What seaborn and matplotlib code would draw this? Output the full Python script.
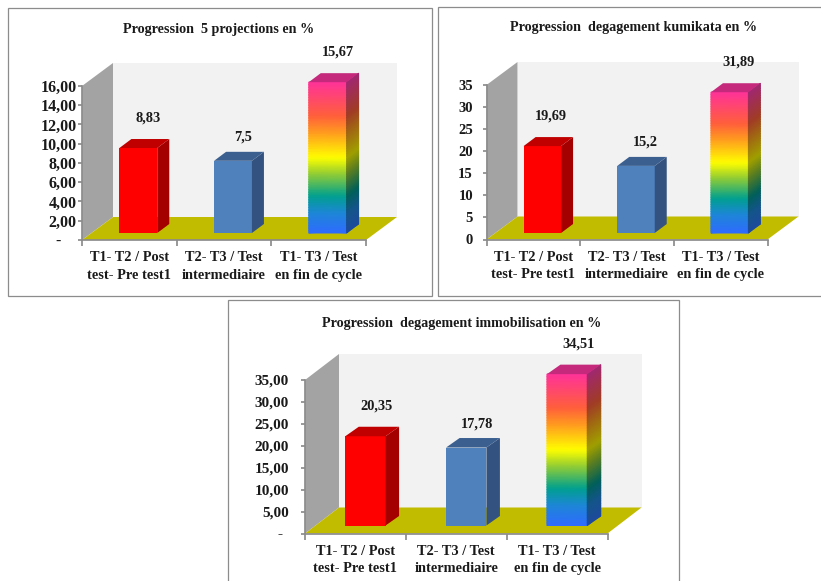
import numpy as np
import pandas as pd
import seaborn as sns
import matplotlib.pyplot as plt
from matplotlib.colors import LinearSegmentedColormap
from matplotlib.patches import Polygon, Rectangle
from matplotlib.transforms import Affine2D

# Data
CATEGORIES = ['T1- T2 / Post\ntest- Pre test1', 'T2- T3 / Test\nintermediaire', 'T1- T3 / Test\nen fin de cycle']

TITLE_1 = 'Progression  5 projections en %'
VALUES_1 = [8.83, 7.5, 15.67]
LABELS_1 = ['8,83', '7,5', '15,67']
YTICKS_1 = [0, 2, 4, 6, 8, 10, 12, 14, 16]
YLABELS_1 = ['-', '2,00', '4,00', '6,00', '8,00', '10,00', '12,00', '14,00', '16,00']

TITLE_2 = 'Progression  degagement kumikata en %'
VALUES_2 = [19.69, 15.2, 31.89]
LABELS_2 = ['19,69', '15,2', '31,89']
YTICKS_2 = [0, 5, 10, 15, 20, 25, 30, 35]
YLABELS_2 = ['0', '5', '10', '15', '20', '25', '30', '35']

TITLE_3 = 'Progression  degagement immobilisation en %'
VALUES_3 = [20.35, 17.78, 34.51]
LABELS_3 = ['20,35', '17,78', '34,51']
YTICKS_3 = [0, 5, 10, 15, 20, 25, 30, 35]
YLABELS_3 = ['-', '5,00', '10,00', '15,00', '20,00', '25,00', '30,00', '35,00']

# Layout, in pixels of the 821x581 picture
W, H = 821, 581
FONT = 'Liberation Serif'
TEXT = '#1A1A1A'
GREY_LINE = '#8C8C8C'

SOLID = [('#FF0000', '#A50000', '#C00000'), ('#4F81BD', '#34527F', '#3B6090')]
RAINBOW = [(0, '#2F6BFF'), (.13, '#1E86D8'), (.245, '#00A090'), (.40, '#9AD030'),
           (.5, '#FFFF00'), (.67, '#FF9A20'), (.78, '#FF5F3C'), (1, '#FF3399')]
RAINBOW_DARK = [(0, '#1E4A9E'), (.13, '#14558A'), (.245, '#00605A'), (.40, '#60801E'),
                (.5, '#A0A000'), (.67, '#A06414'), (.78, '#A03C26'), (1, '#A02870')]
front_cmap = LinearSegmentedColormap.from_list('front', RAINBOW)
side_cmap = LinearSegmentedColormap.from_list('side', RAINBOW_DARK)


def draw_panel(fig, values, labels, yticks, ylabels, title, frame, axis, wall, bar, title_xy, ytick_style):
    left, right, bottom, top = axis
    ax = fig.add_axes([left / W, 1 - bottom / H, (right - left) / W, (bottom - top) / H])
    df = pd.DataFrame({'pos': np.arange(len(values)), 'cat': CATEGORIES, 'val': values})
    sns.barplot(data=df, x='pos', y='val', hue='cat', palette=['#FF0000', '#4F81BD', '#FF3399'],
                native_scale=True, dodge=False, width=bar['width'], legend=False, saturation=1, ax=ax)
    bars = list(ax.patches)
    ax.set_xlim(-0.5, 2.5)
    ax.set_ylim(yticks[0], yticks[-1])
    ax.patch.set_alpha(0)
    ax.set_xlabel('')
    ax.set_ylabel('')

    # pixels -> data units
    sx = (right - left) / 3
    sy = (bottom - top) / (yticks[-1] - yticks[0])
    wx, wy = wall[0] / sx, wall[1] / sy
    ox, oy = bar['offset'][0] / sx, bar['offset'][1] / sy
    dx, dy = bar['depth'][0] / sx, bar['depth'][1] / sy
    ymax = yticks[-1]

    # back wall, side wall, floor
    ax.add_patch(Polygon([(-.5 + wx, wy), (2.5 + wx, wy), (2.5 + wx, ymax + wy), (-.5 + wx, ymax + wy)],
                         fc='#F2F2F2', ec='none', zorder=.2, clip_on=False))
    ax.add_patch(Polygon([(-.5, 0), (-.5 + wx, wy), (-.5 + wx, ymax + wy), (-.5, ymax)],
                         fc='#A3A3A3', ec='none', zorder=.3, clip_on=False))
    ax.add_patch(Polygon([(-.5, 0), (2.5, 0), (2.5 + wx, wy), (-.5 + wx, wy)],
                         fc='#C2BC00', ec='none', zorder=.4, clip_on=False))

    for i, patch in enumerate(bars):
        v = values[i]
        patch.set_x(patch.get_x() + ox)
        patch.set_y(oy)
        patch.set_clip_on(False)
        patch.set_zorder(2)
        patch.set_edgecolor('none')
        x0, x1 = patch.get_x(), patch.get_x() + patch.get_width()
        side_pts = [(x1, oy), (x1 + dx, oy + dy), (x1 + dx, oy + dy + v), (x1, oy + v)]
        top_pts = [(x0, oy + v), (x1, oy + v), (x1 + dx, oy + v + dy), (x0 + dx, oy + v + dy)]
        if i < 2:
            ax.add_patch(Polygon(side_pts, fc=SOLID[i][1], ec='none', zorder=2, clip_on=False))
            ax.add_patch(Polygon(top_pts, fc=SOLID[i][2], ec='none', zorder=2, clip_on=False))
        else:
            t = np.linspace(0, 1, 60)
            y = oy + t * v
            c = np.column_stack([t, t])
            ax.pcolormesh(np.column_stack([np.full(60, x0), np.full(60, x1)]), np.column_stack([y, y]), c,
                          cmap=front_cmap, vmin=0, vmax=1, shading='gouraud', zorder=2.1, clip_on=False)
            ax.pcolormesh(np.column_stack([np.full(60, x1), np.full(60, x1 + dx)]), np.column_stack([y, y + dy]), c,
                          cmap=side_cmap, vmin=0, vmax=1, shading='gouraud', zorder=2.1, clip_on=False)
            ax.add_patch(Polygon(top_pts, fc='#C4297C', ec='none', zorder=2.1, clip_on=False))
        rise = 24 if i == 1 else 30
        ax.annotate(labels[i], ((x0 + x1) / 2, oy + v), xytext=(bar['label_dx'], rise), textcoords='offset pixels',
                    ha='center', va='center', fontsize=10.4, fontweight='bold', family=FONT,
                    color=TEXT, annotation_clip=False, zorder=5)

    # axes
    sns.despine(ax=ax)
    ax.spines['left'].set_color(GREY_LINE)
    ax.spines['bottom'].set_color(GREY_LINE)
    ax.set_yticks(yticks)
    ax.set_yticklabels(ylabels, fontsize=ytick_style['size'], fontweight='bold', family=FONT, color=TEXT)
    ax.set_xticks([-.5, .5, 1.5, 2.5])
    ax.set_xticklabels([])
    ax.set_xticks([0, 1, 2], minor=True)
    ax.set_xticklabels(CATEGORIES, minor=True, fontsize=10.4, fontweight='bold', family=FONT,
                       color=TEXT, linespacing=1.45)
    ax.tick_params(axis='y', left=True, length=3, color=GREY_LINE, pad=ytick_style['pad'])
    ax.tick_params(axis='x', which='major', bottom=True, length=4, color=GREY_LINE)
    ax.tick_params(axis='x', which='minor', length=0, pad=8)

    # the "-" of the zero tick sits further left than the other labels
    zero = ax.get_yticklabels()[0]
    zero.set_transform(zero.get_transform() + Affine2D().translate(-ytick_style['zero_shift'], 0))

    fig.text(title_xy[0] / W, 1 - title_xy[1] / H, title, ha='center', va='center', fontsize=10.2,
             fontweight='bold', family=FONT, color=TEXT)
    x0, y0, x1, y1 = frame
    fig.add_artist(Rectangle((x0 / W, 1 - y1 / H), (x1 - x0) / W, (y1 - y0) / H, transform=fig.transFigure,
                             fc='none', ec=GREY_LINE, lw=0.9))


def main():
    sns.set_theme(style='white')
    fig = plt.figure(figsize=(W / 100, H / 100), dpi=100)

    draw_panel(fig, VALUES_1, LABELS_1, YTICKS_1, YLABELS_1, TITLE_1,
               frame=(7.5, 7.5, 431.5, 295.5), axis=(82, 366, 240, 86), wall=(31, 23),
               bar={'width': .4, 'offset': (9, 7), 'depth': (12, 9), 'label_dx': 10}, title_xy=(218.5, 30),
               ytick_style={'size': 11.5, 'pad': 1, 'zero_shift': 16})
    draw_panel(fig, VALUES_2, LABELS_2, YTICKS_2, YLABELS_2, TITLE_2,
               frame=(437.5, 6.5, 822, 295.5), axis=(486.5, 767.5, 239.5, 85), wall=(31, 23),
               bar={'width': .4, 'offset': (9, 6.5), 'depth': (12, 9), 'label_dx': 9}, title_xy=(634, 27),
               ytick_style={'size': 10.5, 'pad': 6.7, 'zero_shift': 0})
    draw_panel(fig, VALUES_3, LABELS_3, YTICKS_3, YLABELS_3, TITLE_3,
               frame=(227.5, 299.5, 678.5, 590), axis=(305, 607.5, 533.5, 380), wall=(34, 26),
               bar={'width': .4, 'offset': (10, 8), 'depth': (13.5, 9.5), 'label_dx': 11}, title_xy=(461.5, 324),
               ytick_style={'size': 11, 'pad': 8.5, 'zero_shift': 7})

    fig.savefig('out.png', dpi=100)


if __name__ == '__main__':
    main()
